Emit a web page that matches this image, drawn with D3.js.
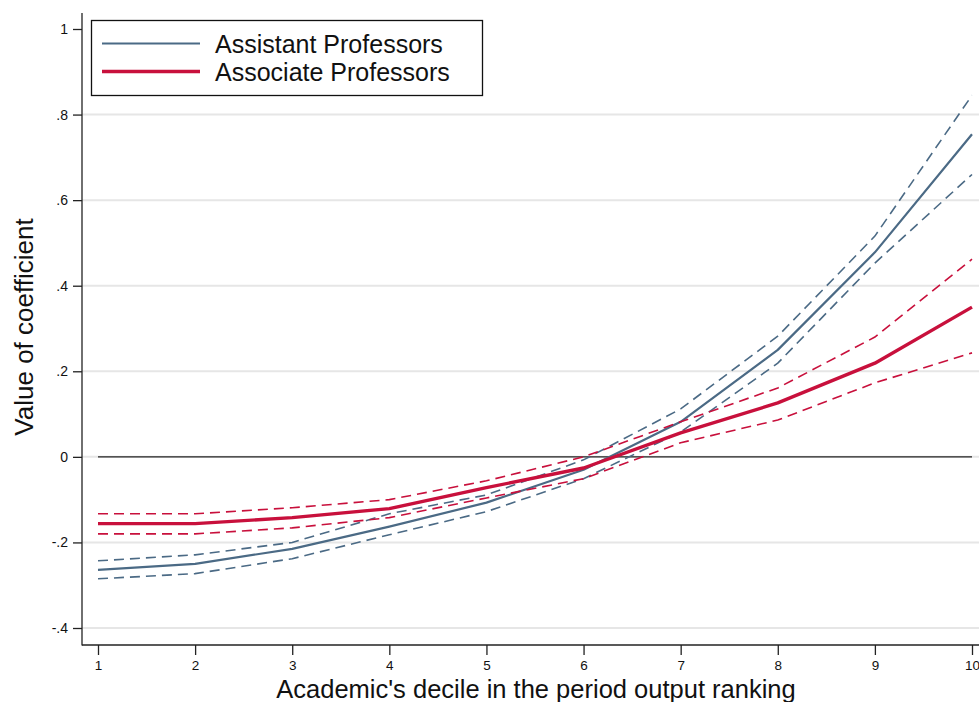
<!DOCTYPE html>
<html>
<head>
<meta charset="utf-8">
<script src="https://cdn.jsdelivr.net/npm/d3@7"></script>
<style>
  html, body { margin: 0; padding: 0; background: #fff; }
  svg { display: block; font-family: "Liberation Sans", Arial, sans-serif; }
</style>
</head>
<body>
<svg id="chart" width="979" height="702"></svg>
<script>
const deciles = [1, 2, 3, 4, 5, 6, 7, 8, 9, 10];
const yTicks = [-0.4, -0.2, 0, 0.2, 0.4, 0.6, 0.8, 1];
const yTickLabels = ["-.4", "-.2", "0", ".2", ".4", ".6", ".8", "1"];
const gridTicks = [-0.4, -0.2, 0, 0.2, 0.4, 0.6, 0.8];

const assistant      = [-0.264, -0.250, -0.215, -0.163, -0.107, -0.030, 0.082, 0.250, 0.478, 0.754];
const assistantUpper = [-0.243, -0.229, -0.200, -0.133, -0.089, -0.007, 0.112, 0.282, 0.516, 0.845];
const assistantLower = [-0.285, -0.273, -0.238, -0.182, -0.128, -0.051, 0.058, 0.219, 0.453, 0.660];

const associate      = [-0.156, -0.156, -0.142, -0.121, -0.072, -0.026, 0.056, 0.126, 0.219, 0.350];
const associateUpper = [-0.133, -0.133, -0.119, -0.100, -0.056, 0.000, 0.082, 0.161, 0.280, 0.462];
const associateLower = [-0.180, -0.180, -0.166, -0.142, -0.096, -0.051, 0.033, 0.086, 0.173, 0.243];

const seriesNames = ["Assistant Professors", "Associate Professors"];
const colors = ["#4b6a85", "#c8103c"];

(function () {
const svg = d3.select("#chart");
const pLeft = 82, pRight = 979, pTop = 13, pBottom = 645;
const font = "'Liberation Sans', Arial, sans-serif";

const x = d3.scaleLinear().domain([1, 10]).range([98, 972]);
const y = d3.scaleLinear().domain([-0.4, 1]).range([628, 29]);

// gridlines
svg.append("g").selectAll("line").data(gridTicks).join("line")
  .attr("x1", pLeft).attr("x2", pRight)
  .attr("y1", d => y(d)).attr("y2", d => y(d))
  .attr("stroke", "#e6e6e6").attr("stroke-width", 2);

// zero reference line
svg.append("line")
  .attr("x1", x(1)).attr("x2", x(10))
  .attr("y1", y(0)).attr("y2", y(0))
  .attr("stroke", "#222").attr("stroke-width", 1.3);

// y axis
const yAxis = d3.axisLeft(y).tickValues(yTicks)
  .tickFormat((d, i) => yTickLabels[i]).tickSize(9).tickPadding(5);
const gy = svg.append("g").attr("transform", `translate(${pLeft},0)`).call(yAxis);
gy.select(".domain").remove();
gy.selectAll("line").attr("stroke", "#222").attr("stroke-width", 1.3);
gy.selectAll("text").attr("font-size", 14).attr("fill", "#111").attr("font-family", font);
svg.append("line").attr("x1", pLeft).attr("x2", pLeft).attr("y1", pTop).attr("y2", pBottom + 0.5)
  .attr("stroke", "#222").attr("stroke-width", 1.3);

// x axis
const xAxis = d3.axisBottom(x).tickValues(deciles).tickFormat(d3.format("d")).tickSize(10).tickPadding(5);
const gx = svg.append("g").attr("transform", `translate(0,${pBottom})`).call(xAxis);
gx.select(".domain").remove();
gx.selectAll("line").attr("stroke", "#222").attr("stroke-width", 1.3);
gx.selectAll("text").attr("font-size", 13.5).attr("fill", "#111").attr("font-family", font);
svg.append("line").attr("x1", pLeft).attr("x2", pRight).attr("y1", pBottom).attr("y2", pBottom)
  .attr("stroke", "#222").attr("stroke-width", 1.3);

// axis titles
svg.append("text").attr("x", 536).attr("y", 698).attr("text-anchor", "middle")
  .attr("font-size", 25.5).attr("fill", "#111").attr("font-family", font)
  .text("Academic's decile in the period output ranking");
svg.append("text").attr("transform", "translate(33,327) rotate(-90)").attr("text-anchor", "middle")
  .attr("font-size", 26).attr("fill", "#111").attr("font-family", font)
  .text("Value of coefficient");

const line = d3.line().x((d, i) => x(deciles[i])).y(d => y(d));

function drawSeries(vals, upper, lower, color, mainWidth) {
  [upper, lower].forEach(ci => {
    svg.append("path").datum(ci).attr("d", line)
      .attr("fill", "none").attr("stroke", color).attr("stroke-width", 1.6)
      .attr("stroke-dasharray", "10,6");
  });
  svg.append("path").datum(vals).attr("d", line)
    .attr("fill", "none").attr("stroke", color).attr("stroke-width", mainWidth)
    .attr("stroke-linejoin", "round");
}
drawSeries(assistant, assistantUpper, assistantLower, colors[0], 2.2);
drawSeries(associate, associateUpper, associateLower, colors[1], 3.4);

// legend
const lg = svg.append("g");
lg.append("rect").attr("x", 91.5).attr("y", 20.5).attr("width", 391).attr("height", 75)
  .attr("fill", "#fff").attr("stroke", "#111").attr("stroke-width", 1.3);
seriesNames.forEach((name, i) => {
  const yy = 43.5 + i * 28;
  lg.append("line").attr("x1", 102).attr("x2", 200).attr("y1", yy).attr("y2", yy)
    .attr("stroke", colors[i]).attr("stroke-width", i === 0 ? 2.2 : 3.4);
  lg.append("text").attr("x", 215).attr("y", yy + 9.5).attr("font-size", 25).attr("fill", "#111")
    .attr("font-family", font).text(name);
});
})();
</script>
</body>
</html>
